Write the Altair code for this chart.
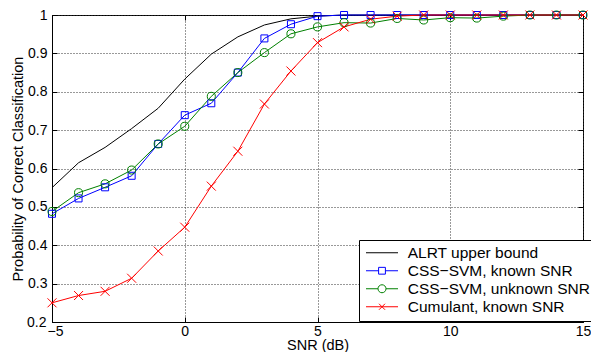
import altair as alt
import pandas as pd

FONT = "Liberation Sans"

snr = list(range(-5, 16))
series_names = ["ALRT upper bound", "CSS−SVM, known SNR", "CSS−SVM, unknown SNR", "Cumulant, known SNR"]
alrt = [0.550, 0.615, 0.655, 0.704, 0.757, 0.833, 0.898, 0.943, 0.974, 0.990, 0.997,
        1.0, 1.0, 1.0, 1.0, 1.0, 1.0, 1.0, 1.0, 1.0, 1.0]
css_known = [0.482, 0.522, 0.551, 0.581, 0.664, 0.739, 0.770, 0.850, 0.939, 0.976, 0.997,
             1.0, 1.0, 1.0, 1.0, 1.0, 1.0, 1.0, 1.0, 1.0, 1.0]
css_unknown = [0.488, 0.537, 0.560, 0.596, 0.664, 0.710, 0.788, 0.850, 0.902, 0.951, 0.969,
               0.980, 0.979, 0.991, 0.987, 0.993, 0.992, 0.997, 1.0, 1.0, 1.0]
cumulant = [0.250, 0.269, 0.280, 0.314, 0.385, 0.447, 0.554, 0.645, 0.768, 0.854, 0.928,
            0.969, 0.989, 0.997, 1.0, 1.0, 1.0, 1.0, 1.0, 1.0, 1.0]
colors = ["#000000", "#0000ff", "#008000", "#ff0000"]

x_ticks = [-5, 0, 5, 10, 15]
y_ticks = [0.2, 0.3, 0.4, 0.5, 0.6, 0.7, 0.8, 0.9, 1.0]

rows = []
for name, vals in zip(series_names, [alrt, css_known, css_unknown, cumulant]):
    for s, v in zip(snr, vals):
        rows.append({"snr": s, "p": v, "series": name})
df = pd.DataFrame(rows)

W, H = 531, 307

xs = alt.Scale(domain=[-5, 15], nice=False, zero=False)
ys = alt.Scale(domain=[0.2, 1.0], nice=False, zero=False)

grid_kw = dict(grid=True, gridColor="#333333", gridDash=[1, 2], gridWidth=1, gridOpacity=1)
lab_kw = dict(labelFont=FONT, labelFontSize=14, labelColor="black", labelFlush=False,
              labelOverlap=False, labelBound=False)
title_kw = dict(titleFont=FONT, titleFontSize=14.5, titleFontWeight="normal", titleColor="black")

ax_x_main = alt.Axis(values=x_ticks, orient="bottom", ticks=False, tickSize=0, domain=True,
                     domainColor="black", domainWidth=1, labelPadding=2,
                     labelOffset={"condition": {"test": "datum.value == -5", "value": 3}, "value": 0},
                     title="SNR (dB)",
                     titleBaseline="alphabetic", titleAlign="center", titleX=W / 2, titleY=27.5,
                     **grid_kw, **lab_kw, **title_kw)
ax_y_main = alt.Axis(values=y_ticks, orient="left", format=".1~f", ticks=False, tickSize=0,
                     domain=True, domainColor="black",
                     domainWidth=1,
                     labelPadding={"condition": {"test": "datum.value < 0.25", "value": 6}, "value": 5},
                     title="Probability of Correct Classification", titleAngle=270,
                     titleBaseline="alphabetic", titleAlign="center", titleX=-30, titleY=H / 2,
                     **grid_kw, **lab_kw, **title_kw)

tick_kw = dict(labels=False, domain=False, grid=False, ticks=True, tickSize=5,
               tickColor="black", tickWidth=1, title=None)
ax_x_in_bottom = alt.Axis(values=x_ticks, orient="top", offset=-H, **tick_kw)
ax_x_in_top = alt.Axis(values=x_ticks, orient="bottom", offset=-H, **tick_kw)
ax_y_in_left = alt.Axis(values=y_ticks, orient="right", offset=-W, **tick_kw)
ax_y_in_right = alt.Axis(values=y_ticks, orient="left", offset=-W, **tick_kw)

lines = alt.Chart(df).mark_line(strokeWidth=1).encode(
    x=alt.X("snr:Q", scale=xs, axis=ax_x_main),
    y=alt.Y("p:Q", scale=ys, axis=ax_y_main),
    color=alt.Color("series:N", scale=alt.Scale(domain=series_names, range=colors), legend=None),
    detail="series:N",
)

marker_series = series_names[1:]
points = alt.Chart(df).transform_filter(
    alt.FieldOneOfPredicate(field="series", oneOf=marker_series)
).mark_point(filled=False, strokeWidth=1, opacity=1).encode(
    x=alt.X("snr:Q", scale=xs, axis=ax_x_in_bottom),
    y=alt.Y("p:Q", scale=ys, axis=ax_y_in_left),
    color=alt.Color("series:N", scale=alt.Scale(domain=marker_series, range=colors[1:]), legend=None),
    shape=alt.Shape("series:N", scale=alt.Scale(domain=marker_series,
                    range=["square", "circle", "M-1,-1L1,1M-1,1L1,-1"]), legend=None),
    size=alt.Size("series:N", scale=alt.Scale(domain=marker_series, range=[49, 81, 44]), legend=None),
)

legend_paths = [
    "M-4,0H4",
    "M-4,0H-0.85M0.85,0H4M-0.85,-0.85H0.85V0.85H-0.85Z",
    "M-4,0H-1M1,0H4M1,0A1,1,0,1,1,-1,0A1,1,0,1,1,1,0",
    "M-4,0H4M-0.75,-0.75L0.75,0.75M-0.75,0.75L0.75,-0.75",
]
leg = alt.Legend(title=None, orient="none", legendX=307, legendY=225, padding=5,
                 strokeColor="black", fillColor="white", cornerRadius=0,
                 symbolSize=64, symbolStrokeWidth=1, symbolOffset=10.25, labelOffset=18,
                 rowPadding=1, labelFont=FONT, labelFontSize=15.5, labelColor="black",
                 labelLimit=400, symbolOpacity=1)

legend_layer = alt.Chart(df).transform_filter("false").mark_point(filled=False, strokeWidth=1).encode(
    x=alt.X("snr:Q", scale=xs, axis=ax_x_in_top),
    y=alt.Y("p:Q", scale=ys, axis=ax_y_in_right),
    color=alt.Color("series:N", scale=alt.Scale(domain=series_names, range=colors), legend=leg),
    shape=alt.Shape("series:N", scale=alt.Scale(domain=series_names, range=legend_paths), legend=leg),
)

chart = alt.layer(lines, points, legend_layer).resolve_scale(
    color="independent", shape="independent", size="independent"
).resolve_axis(x="independent", y="independent").properties(
    width=W, height=H,
    autosize=alt.AutoSizeParams(type="none"),
    padding={"left": 44, "top": 7, "right": 8, "bottom": 30},
    background="white",
).configure_view(stroke="black", strokeWidth=1)

chart.save("out.html", embed_options={"renderer": "svg", "actions": False})
